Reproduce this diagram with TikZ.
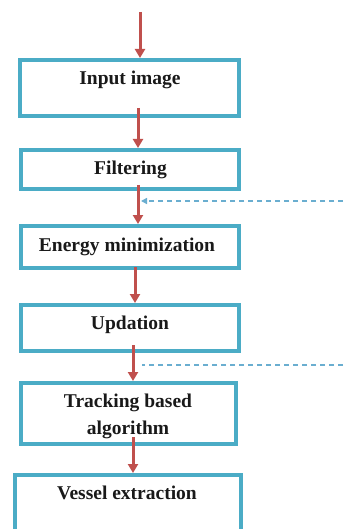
\documentclass[tikz,border=0pt]{standalone}
\usepackage{fontspec}
\setmainfont{Liberation Serif}
\usetikzlibrary{arrows.meta}
\definecolor{boxteal}{HTML}{4BACC6}
\definecolor{arrred}{HTML}{C0504D}
\definecolor{dashblue}{HTML}{6AAED0}
\begin{document}
\begin{tikzpicture}[x=1pt,y=-1pt,
  box/.style={draw=boxteal,line width=4pt,rectangle,inner sep=0pt,fill=white},
  lbl/.style={font=\fontsize{19.5}{27}\selectfont\bfseries,text=black!90,inner sep=0pt,anchor=base,align=center},
  flow/.style={draw=arrred,line width=3pt,-{Triangle[width=10pt,length=9pt]}},
  fb/.style={draw=dashblue,line width=1.5pt,dash pattern=on 5pt off 4pt}]
\clip (0,0) rectangle (343,529);
\fill[white] (0,0) rectangle (343,529);
% boxes
\node[box,minimum width=219pt,minimum height=56pt] (b1) at (129.5,88) {};
\node[box,minimum width=218pt,minimum height=39pt] (b2) at (130,169.5) {};
\node[box,minimum width=218pt,minimum height=42pt] (b3) at (130,247) {};
\node[box,minimum width=218pt,minimum height=46pt] (b4) at (130,328) {};
\node[box,minimum width=215pt,minimum height=61pt] (b5) at (128.5,413.5) {};
\node[box,minimum width=226pt,minimum height=68pt] (b6) at (128,509) {};
% labels
\node[lbl] (t1) at (130,85) {Input image};
\node[lbl] (t2) at (130.5,175) {Filtering};
\node[lbl] (t3) at (127,251) {Energy minimization};
\node[lbl] (t4) at (130,329) {Updation};
\node[lbl] (t5) at (128,434) {Tracking based\\algorithm};
\node[lbl] (t6) at (127,499) {Vessel extraction};
% arrow start points
\coordinate (s0) at (140,12);
\coordinate (s1) at (138,108);
\coordinate (s2) at (138,185);
\coordinate (s3) at (135,267);
\coordinate (s4) at (133,345);
\coordinate (s5) at (133,437);
% flow arrows
\draw[flow] (s0) -- (s0 |- b1.north);
\draw[flow] (s1) -- (s1 |- b2.north);
\draw[flow] (s2) -- (s2 |- b3.north);
\draw[flow] (s3) -- (s3 |- b4.north);
\draw[flow] (s4) -- (s4 |- b5.north);
\draw[flow] (s5) -- (s5 |- b6.north);
% feedback dashed lines
\coordinate (f1s) at (343,201);
\coordinate (f1e) at (141,201);
\coordinate (f2s) at (343,365);
\coordinate (f2e) at (142,365);
\draw[fb,-{Triangle[width=6pt,length=6pt]}] (f1s) -- (f1e);
\draw[fb] (f2s) -- (f2e);
\end{tikzpicture}
\end{document}
